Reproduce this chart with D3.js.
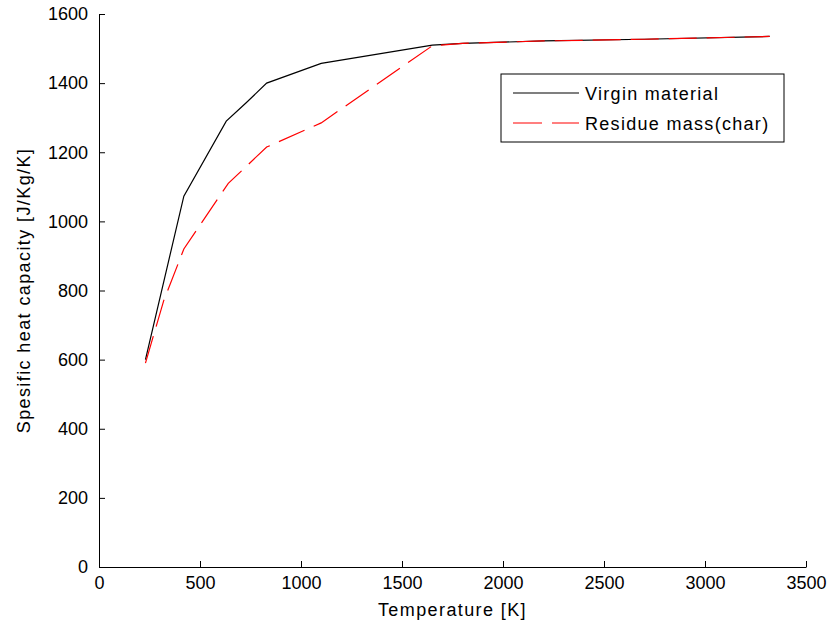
<!DOCTYPE html>
<html>
<head>
<meta charset="utf-8">
<script src="https://cdn.jsdelivr.net/npm/d3@7"></script>
<style>
  body { margin: 0; background: #fff; }
  text { font-family: "Liberation Sans", Arial, sans-serif; }
</style>
</head>
<body>
<script>
// data
var virginT = [230, 420, 630, 730, 830, 1100, 1650, 1800, 2200, 2700, 3320];
var virginCp = [600, 1073, 1290, 1344, 1400, 1457, 1510, 1515, 1522, 1527, 1535];
var charT = [230, 320, 420, 640, 830, 1100, 1650, 1800, 2200, 2700, 3320];
var charCp = [590, 770, 920, 1110, 1215, 1285, 1508, 1515, 1522, 1527, 1535];
var seriesNames = ["Virgin material", "Residue mass(char)"];
var xTicks = [0, 500, 1000, 1500, 2000, 2500, 3000, 3500];
var yTicks = [0, 200, 400, 600, 800, 1000, 1200, 1400, 1600];

var width = 827, height = 632;
var margin = {top: 14, right: 21, bottom: 65, left: 99};

var svg = d3.select("body").append("svg")
    .attr("width", width)
    .attr("height", height);

var x = d3.scaleLinear().domain([0, 3500]).range([margin.left, width - margin.right]);
var y = d3.scaleLinear().domain([0, 1600]).range([height - margin.bottom, margin.top]);

// axes, ticks point inward like matlab
svg.append("g")
    .attr("transform", "translate(0," + y(0) + ")")
    .call(d3.axisBottom(x).tickValues(xTicks).tickFormat(d3.format("d"))
      .tickSizeInner(-6).tickSizeOuter(0).tickPadding(9));

svg.append("g")
    .attr("transform", "translate(" + x(0) + ",0)")
    .call(d3.axisLeft(y).tickValues(yTicks).tickFormat(d3.format("d"))
      .tickSizeInner(-6).tickSizeOuter(0).tickPadding(11));

svg.selectAll(".tick text")
    .style("font-size", "18px")
    .attr("fill", "#000");
svg.selectAll(".domain, .tick line").attr("stroke", "#000");

// lines
var line = d3.line()
  .x(function(d) { return x(d[0]); })
  .y(function(d) { return y(d[1]); });

var virgin = virginT.map(function(t, i) { return [t, virginCp[i]]; });
var charData = charT.map(function(t, i) { return [t, charCp[i]]; });

svg.append("path")
    .datum(virgin)
    .attr("d", line)
    .attr("fill", "none")
    .attr("stroke", "#000")
    .attr("stroke-width", 1.2);

svg.append("path")
    .datum(charData)
    .attr("d", line)
    .attr("fill", "none")
    .attr("stroke", "#ff0000")
    .attr("stroke-width", 1.2)
    .attr("stroke-dasharray", "28,10");

// axis labels
svg.append("text")
    .attr("x", (x(0) + x(3500)) / 2)
    .attr("y", 616)
    .attr("text-anchor", "middle")
    .style("font-size", "18px")
    .style("letter-spacing", "1.4px")
    .text("Temperature [K]");

svg.append("text")
    .attr("transform", "translate(30," + ((y(0) + y(1600)) / 2) + ") rotate(-90)")
    .attr("text-anchor", "middle")
    .style("font-size", "18px")
    .style("letter-spacing", "1.4px")
    .text("Spesific heat capacity [J/Kg/K]");

// legend
var legend = svg.append("g").attr("transform", "translate(501,74)");

legend.append("rect")
    .attr("width", 283)
    .attr("height", 68)
    .attr("fill", "#fff")
    .attr("stroke", "#000");

var styles = [{stroke: "#000", dash: null}, {stroke: "#ff0000", dash: "29,10"}];

seriesNames.forEach(function(name, i) {
  var cy = 19 + i * 30;
  legend.append("line")
      .attr("x1", 12).attr("x2", 78)
      .attr("y1", cy).attr("y2", cy)
      .attr("stroke", styles[i].stroke)
      .attr("stroke-width", 1.2)
      .attr("stroke-dasharray", styles[i].dash);
  legend.append("text")
      .attr("x", 84)
      .attr("y", cy + 7)
      .style("font-size", "18px")
      .style("letter-spacing", "1.3px")
      .text(name);
});
</script>
</body>
</html>
